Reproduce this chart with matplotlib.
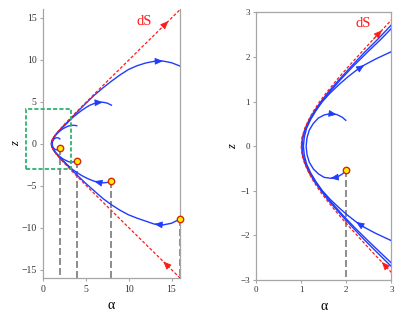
import numpy as np
import matplotlib
matplotlib.use('Agg')
import matplotlib.pyplot as plt
from matplotlib.patches import Rectangle

plt.rcParams['font.family'] = ['Liberation Serif', 'DejaVu Serif']
plt.rcParams['lines.scale_dashes'] = False

### dS curve (alpha, z)
ds_z = [-16, -14.6, -14, -12, -10, -8, -6, -5, -4, -3, -2.8, -2.7, -2.6, -2.4, -2.1, -1.8,
        -1.5, -1.2, -1.0, -0.8, -0.6, -0.4, -0.2, 0, 0.2, 0.4, 0.6, 0.8, 1.0, 1.2, 1.5,
        1.8, 2.1, 2.4, 2.6, 2.7, 2.8, 3, 4, 5, 6, 8, 10, 12, 14, 14.6, 16]
ds_a = [16.03, 14.63, 14.04, 12.04, 10.05, 8.06, 6.08, 5.10, 4.12, 3.16, 2.97, 2.88, 2.79, 2.60,
        2.33, 2.06, 1.80, 1.56, 1.41, 1.28, 1.17, 1.08, 1.02, 1.00, 1.02, 1.08, 1.17, 1.28,
        1.41, 1.56, 1.80, 2.06, 2.33, 2.60, 2.79, 2.88, 2.97, 3.16, 4.12, 5.10, 6.08, 8.06,
        10.05, 12.04, 14.04, 14.63, 16.03]

### trajectories, ordered from the starting point
t1_a = [2.0, 1.92, 1.79, 1.65, 1.51, 1.38, 1.27, 1.18, 1.13, 1.11, 1.13, 1.18, 1.27, 1.38,
        1.51, 1.65, 1.79, 1.91, 1.99]
t1_z = [-0.53, -0.62, -0.70, -0.72, -0.70, -0.62, -0.51, -0.36, -0.19, 0.0, 0.19, 0.36, 0.51,
        0.63, 0.70, 0.73, 0.71, 0.65, 0.58]

t2_a = [4.0, 3.7, 3.4, 3.15, 3.0, 2.85, 2.64, 2.4, 2.22, 2.03, 1.86, 1.65, 1.47, 1.33, 1.21,
        1.12, 1.07, 1.05, 1.07, 1.12, 1.21, 1.33, 1.47, 1.65, 1.86, 2.03, 2.22, 2.4, 2.64,
        2.85, 3.0, 3.15, 3.4, 3.7, 3.95]
t2_z = [-2.0, -2.12, -2.17, -2.16, -2.12, -2.05, -1.95, -1.82, -1.7, -1.55, -1.4, -1.2, -1.0,
        -0.8, -0.6, -0.4, -0.2, 0.0, 0.2, 0.4, 0.6, 0.8, 1.0, 1.2, 1.4, 1.55, 1.7, 1.82, 1.95,
        2.05, 2.12, 2.16, 2.2, 2.2, 2.15]

t3_a = [8.0, 7.5, 7.0, 6.5, 6.0, 5.5, 5.0, 4.5, 4.0, 3.5, 3.0, 2.77, 2.46, 2.16, 1.88, 1.62,
        1.46, 1.32, 1.2, 1.1, 1.04, 1.02, 1.04, 1.1, 1.2, 1.32, 1.46, 1.62, 1.88, 2.16, 2.46,
        2.77, 3.0, 3.5, 4.0, 4.5, 5.0, 5.5, 6.0, 6.5, 7.0, 7.5, 8.0]
t3_z = [-4.45, -4.6, -4.64, -4.58, -4.45, -4.25, -4.02, -3.75, -3.42, -3.08, -2.62, -2.4, -2.1,
        -1.8, -1.5, -1.2, -1.0, -0.8, -0.6, -0.4, -0.2, 0.0, 0.2, 0.4, 0.6, 0.8, 1.0, 1.2, 1.5,
        1.8, 2.1, 2.4, 2.64, 3.15, 3.55, 3.95, 4.3, 4.6, 4.8, 4.92, 4.95, 4.85, 4.6]

t4_a = [16.0, 15.0, 14.0, 13.0, 12.0, 11.0, 10.0, 9.0, 8.0, 7.0, 6.0, 5.0, 4.0, 3.5, 3.0,
        2.7, 2.4, 2.12, 1.85, 1.59, 1.44, 1.3, 1.18, 1.09, 1.03, 1.01, 1.03, 1.09, 1.18, 1.3,
        1.44, 1.59, 1.85, 2.12, 2.4, 2.7, 3.0, 3.5, 4.0, 5.0, 6.0, 7.0, 8.0, 9.0, 10.0, 11.0,
        12.0, 13.0, 14.0, 15.0, 16.0]
t4_z = [-8.95, -9.45, -9.65, -9.55, -9.2, -8.85, -8.45, -7.9, -7.25, -6.5, -5.6, -4.7, -3.72,
        -3.22, -2.7, -2.4, -2.1, -1.8, -1.5, -1.2, -1.0, -0.8, -0.6, -0.4, -0.2, 0.0, 0.2, 0.4,
        0.6, 0.8, 1.0, 1.2, 1.5, 1.8, 2.1, 2.4, 2.72, 3.25, 3.77, 4.8, 5.78, 6.65, 7.45, 8.2,
        8.85, 9.3, 9.62, 9.82, 9.85, 9.65, 9.25]

trajs = [(t1_a, t1_z), (t2_a, t2_z), (t3_a, t3_z), (t4_a, t4_z)]

# arrow tips (index into each curve) for each panel
arrows_left = {'ds': [2, 45], 't3': [4, 40], 't4': [3, 48]}
arrows_right = {'ds': [12, 34], 't1': [3, 16], 't2': [8, 27]}

blue = '#1f3cff'
red = '#ff1a1a'
grey = '#8c8c8c'


def head(ax, a, z, i, color):
    ax.annotate('', xy=(a[i], z[i]), xytext=(a[i-1], z[i-1]),
                arrowprops=dict(arrowstyle='-|>,head_length=0.75,head_width=0.32',
                                color=color, lw=0.6, shrinkA=0, shrinkB=0,
                                mutation_scale=6.5))


def panel(ax, xlim, ylim, arrows):
    ax.set_xlim(*xlim)
    ax.set_ylim(*ylim)
    for a, z in trajs:
        ax.plot(a, z, color=blue, lw=1.0, zorder=3)
    ax.plot(ds_a, ds_z, color=red, lw=0.9, dashes=(2.2, 1.4), zorder=4)
    for a, z in trajs:
        inside = xlim[0] <= a[0] <= xlim[1]
        if inside:
            ax.plot([a[0], a[0]], [z[0], ylim[0]], color=grey, lw=1.4,
                    dashes=(5, 2.2), zorder=2, clip_on=False)
            ax.plot(a[0], z[0], 'o', ms=4.6, mfc='#ffee00', mec='#d42a00', mew=1.0,
                    zorder=6, clip_on=False)
    for key, idx in arrows.items():
        if key == 'ds':
            for i in idx:
                head(ax, ds_a, ds_z, i, red)
        else:
            a, z = trajs[int(key[1]) - 1]
            for i in idx:
                head(ax, a, z, i, blue)
    for s in ax.spines.values():
        s.set_color('#a6a6a6')
        s.set_linewidth(0.9)
    ax.tick_params(direction='out', length=2.5, width=0.8, color='#a6a6a6',
                   labelsize=7, pad=2, labelcolor='#333333')
    ax.set_xlabel('α', fontsize=10)
    ax.set_ylabel('z', fontsize=9, style='italic')


fig = plt.figure(figsize=(4.15, 3.12), dpi=100)
ax1 = fig.add_axes([0.103, 0.108, 0.331, 0.862])
ax2 = fig.add_axes([0.617, 0.103, 0.326, 0.857])

panel(ax1, (0, 16), (-16, 16), arrows_left)
ax1.set_xticks([0, 5, 10, 15])
ax1.set_yticks([-15, -10, -5, 0, 5, 10, 15])
ax1.spines['top'].set_visible(False)
ax1.add_patch(Rectangle((-1.96, -2.98), 5.23, 7.15, fill=False, ec='#2eb36e', lw=1.3,
                        ls=(0, (3, 1.5)), clip_on=False, zorder=5))
ax1.text(11.8, 14.6, 'dS', color=red, fontsize=10.5, ha='center', va='center')
ax1.xaxis.labelpad = 4
ax1.yaxis.labelpad = -1

panel(ax2, (0, 3), (-3, 3), arrows_right)
ax2.set_xticks([0, 1, 2, 3])
ax2.set_yticks([-3, -2, -1, 0, 1, 2, 3])
ax2.text(2.38, 2.75, 'dS', color=red, fontsize=10.5, ha='center', va='center')
ax2.tick_params(labelsize=6.5)
ax2.xaxis.labelpad = 4
ax2.yaxis.labelpad = 1

plt.savefig('out.png', dpi=100)
